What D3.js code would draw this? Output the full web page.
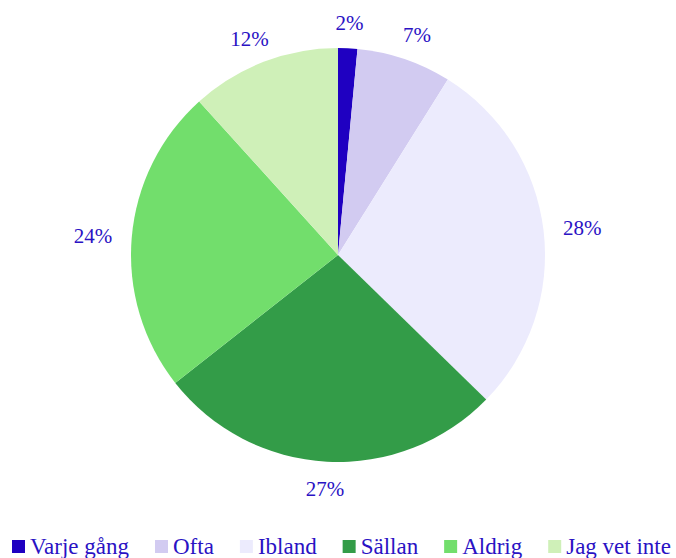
<!DOCTYPE html>
<html>
<head>
<meta charset="utf-8">
<script src="https://cdn.jsdelivr.net/npm/d3@7"></script>
<style>
  body { margin: 0; background: #fff; }
  svg { display: block; }
</style>
</head>
<body>
<svg id="chart" width="676" height="558"></svg>
<script>
const categories = ["Varje gång", "Ofta", "Ibland", "Sällan", "Aldrig", "Jag vet inte"];
const values = [1.5, 7.4, 28.4, 27.1, 23.9, 11.7];
const labels = ["2%", "7%", "28%", "27%", "24%", "12%"];
const colors = ["#1f00c1", "#d2cbf1", "#ecebfd", "#339c48", "#72de6c", "#cff0b8"];

const width = 676, height = 558;
const cx = 338, cy = 255, radius = 207;
const textColor = "#2a12c4";
const font = "'Liberation Serif', 'Times New Roman', serif";

const svg = d3.select("#chart");
const data = categories.map((c, i) => ({name: c, value: values[i], label: labels[i], color: colors[i]}));

const pie = d3.pie().sort(null).value(d => d.value);
const arc = d3.arc().innerRadius(0).outerRadius(radius);
const arcs = pie(data);

const g = svg.append("g").attr("transform", `translate(${cx},${cy})`);

g.selectAll("path")
    .data(arcs)
    .join("path")
    .attr("d", arc)
    .attr("fill", d => d.data.color);

// labels sit on an ellipse just outside the pie
g.selectAll("text")
    .data(arcs)
    .join("text")
    .attr("x", d => Math.sin((d.startAngle + d.endAngle) / 2) * 246)
    .attr("y", d => -Math.cos((d.startAngle + d.endAngle) / 2) * 233 + 1)
    .attr("text-anchor", "middle")
    .attr("dominant-baseline", "central")
    .attr("fill", textColor)
    .style("font-family", font)
    .style("font-size", "21px")
    .text(d => d.data.label);

// legend
const legend = svg.append("g")
    .style("font-family", font)
    .style("font-size", "23px");

let lx = 12;
data.forEach(d => {
    const item = legend.append("g").attr("transform", `translate(${lx},0)`);
    item.append("rect")
        .attr("x", 0)
        .attr("y", 540)
        .attr("width", 13)
        .attr("height", 13)
        .attr("fill", d.color);
    const t = item.append("text")
        .attr("x", 18)
        .attr("y", 554)
        .attr("fill", textColor)
        .text(d.name);
    lx += 18 + t.node().getComputedTextLength() + 26;
});
</script>
</body>
</html>
